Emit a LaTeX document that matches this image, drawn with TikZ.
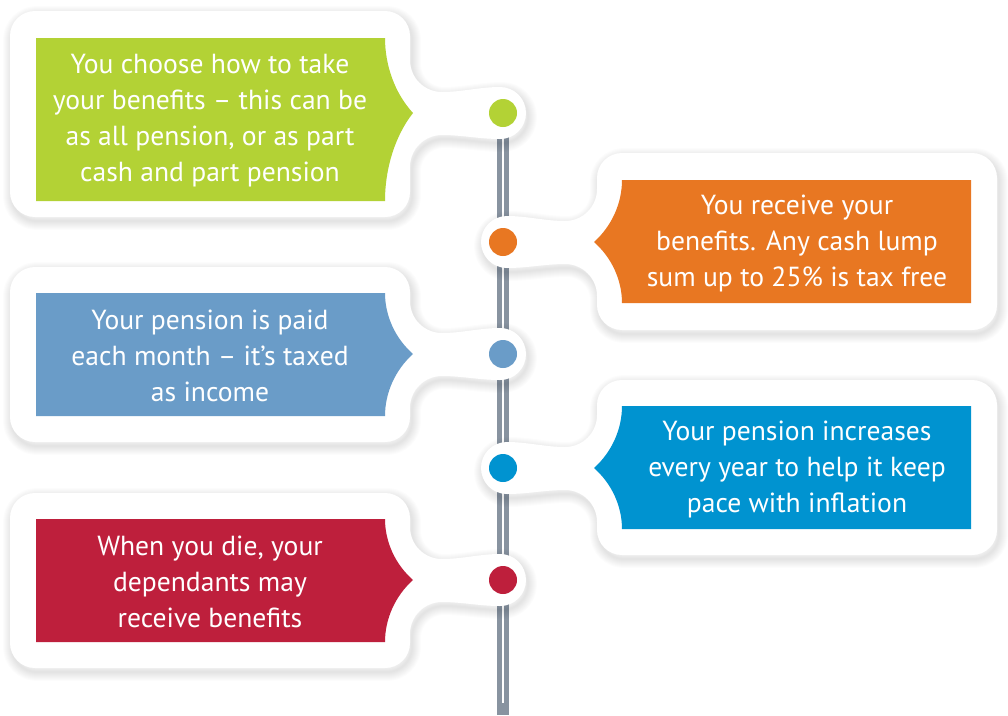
\documentclass[tikz,border=0pt]{standalone}
\usepackage{fontspec}
\setmainfont{PT Sans}

\definecolor{stepgreen}{HTML}{B3D235}
\definecolor{steporange}{HTML}{E87722}
\definecolor{stepblue}{HTML}{6A9CC8}
\definecolor{stepcyan}{HTML}{0093D0}
\definecolor{stepred}{HTML}{BE1F3C}
\definecolor{railgrey}{HTML}{8893A0}

% White card outline with its neck and round end (card on the left, end at x=503)
% #1 card top, #2 card bottom, #3 y of the timeline stop
\newcommand\leftsil[3]{%
 (35,#1) -- (385,#1) .. controls (398.8,#1) and (410,{#1+11.2}) .. (410,{#1+25})
 -- (410,{#3-53}) .. controls (410,{#3-35.3}) and (424.3,{#3-21}) .. (442,{#3-21})
 .. controls (462,{#3-21}) and (480,{#3-26}) .. (500,{#3-26})
 .. controls (514.4,{#3-26}) and (526,{#3-14.4}) .. (526,#3)
 .. controls (526,{#3+14.4}) and (514.4,{#3+26}) .. (500,{#3+26})
 .. controls (480,{#3+26}) and (462,{#3+22}) .. (442,{#3+22})
 .. controls (424.3,{#3+22}) and (410,{#3+36.3}) .. (410,{#3+54})
 -- (410,{#2-25}) .. controls (410,{#2-11.2}) and (398.8,#2) .. (385,#2)
 -- (35,#2) .. controls (21.2,#2) and (10,{#2-11.2}) .. (10,{#2-25})
 -- (10,{#1+25}) .. controls (10,{#1+11.2}) and (21.2,#1) .. (35,#1) -- cycle}

% Coloured panel with a pointed side facing the timeline
% #1 top, #2 bottom, #3 y of the point
\newcommand\leftpanel[3]{%
 (36,#1) -- (385,#1) .. controls (385,{#1+0.37*(#3-#1)}) and (395,{#3-0.26*(#3-#1)}) .. (413,#3)
 .. controls (395,{#3+0.26*(#2-#3)}) and (385,{#2-0.37*(#2-#3)}) .. (385,#2)
 -- (36,#2) -- cycle}

% Soft shadow built from stacked translucent strokes
\newcommand\cardshadow[2]{%
 \foreach \w in {1.5,3,4.5,6,7.5,9,10.5,12,13.5}{%
  \draw[black,opacity=0.011,line width=\w pt,line join=round,shift={(#1,4)}] #2;}}

\tikzset{
 stopdot/.style={circle,inner sep=0pt,minimum size=21pt,draw=none},
 cardtext/.style={text=white,align=center,font=\fontsize{20.7}{27}\selectfont,inner sep=0pt}
}

\begin{document}
\begin{tikzpicture}[x=0.75pt,y=-0.75pt]
\useasboundingbox (0,0) rectangle (1008,715);

% timeline stops
\node[stopdot] (d1) at (503,113) {};
\node[stopdot] (d2) at (503,242) {};
\node[stopdot] (d3) at (503,354) {};
\node[stopdot] (d4) at (503,468) {};
\node[stopdot] (d5) at (503,580) {};
\coordinate (railend) at (503,715);
\coordinate (grooveend) at (503,703);

% the rail
\draw[railgrey,line width=9.4pt] (d1.center) -- (railend);
\draw[white,line width=2.2pt] (d1.center) -- (grooveend);

% shadows
\cardshadow{2}{\leftsil{11}{217}{113}}
\cardshadow{2}{\leftsil{267}{442}{354}}
\cardshadow{2}{\leftsil{493}{668}{580}}
\begin{scope}[shift={(1007,0)},xscale=-1]
 \cardshadow{-2}{\leftsil{153}{330}{242}}
 \cardshadow{-2}{\leftsil{380}{555}{468}}
\end{scope}

% white cards and coloured panels
\fill[white] \leftsil{11}{217}{113};
\fill[stepgreen] \leftpanel{38}{201}{113};
\fill[white] \leftsil{267}{442}{354};
\fill[stepblue] \leftpanel{293}{416}{354};
\fill[white] \leftsil{493}{668}{580};
\fill[stepred] \leftpanel{519}{642}{580};
\begin{scope}[shift={(1007,0)},xscale=-1]
 \fill[white] \leftsil{153}{330}{242};
 \fill[steporange] \leftpanel{180}{303}{242};
 \fill[white] \leftsil{380}{555}{468};
 \fill[stepcyan] \leftpanel{406}{529}{468};
\end{scope}

% stop dots
\fill[stepgreen] (d1) circle[radius=14];
\fill[steporange] (d2) circle[radius=14];
\fill[stepblue] (d3) circle[radius=14];
\fill[stepcyan] (d4) circle[radius=14];
\fill[stepred] (d5) circle[radius=14];

% texts
\node[cardtext] (t1) at (210,121) {You choose how to take\\your benefits – this can be\\as all pension, or as part\\cash and part pension};
\node[cardtext] (t2) at (797,243) {You receive your\\benefits. Any cash lump\\sum up to 25\% is tax free};
\node[cardtext] (t3) at (210,356) {Your pension is paid\\each month – it’s taxed\\as income};
\node[cardtext] (t4) at (797,469) {Your pension increases\\every year to help it keep\\pace with inflation};
\node[cardtext] (t5) at (210,582) {When you die, your\\dependants may\\receive benefits};
\end{tikzpicture}
\end{document}
